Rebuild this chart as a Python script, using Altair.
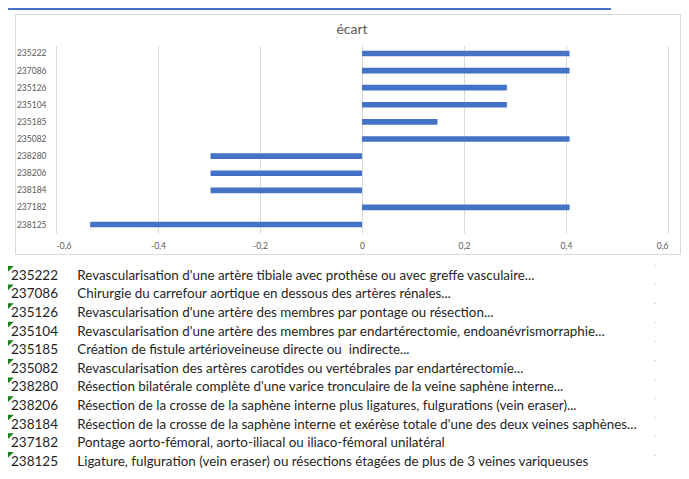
import altair as alt
import pandas as pd

# ---- data ----
codes = ["235222", "237086", "235126", "235104", "235185", "235082",
         "238280", "238206", "238184", "237182", "238125"]
ecart = [0.407, 0.407, 0.284, 0.284, 0.148, 0.407,
         -0.297, -0.297, -0.297, 0.407, -0.533]
descriptions = [
    "Revascularisation d'une artère tibiale avec prothèse ou avec greffe vasculaire...",
    "Chirurgie du carrefour aortique en dessous des artères rénales...",
    "Revascularisation d'une artère des membres par pontage ou résection...",
    "Revascularisation d'une artère des membres par endartérectomie, endoanévrismorraphie...",
    "Création de fistule artérioveineuse directe ou\u00a0 indirecte...",
    "Revascularisation des artères carotides ou vertébrales par endartérectomie...",
    "Résection bilatérale complète d'une varice tronculaire de la veine saphène interne...",
    "Résection de la crosse de la saphène interne plus ligatures, fulgurations (vein eraser)...",
    "Résection de la crosse de la saphène interne et exérèse totale d'une des deux veines saphènes...",
    "Pontage aorto-fémoral, aorto-iliacal ou iliaco-fémoral unilatéral",
    "Ligature, fulguration (vein eraser) ou résections étagées de plus de 3 veines variqueuses",
]
x_ticks = [-0.6, -0.4, -0.2, 0, 0.2, 0.4, 0.6]
title_text = "écart"

FONT = "Lato"
GREY = "#595959"
BLUE = "#4472C4"

df = pd.DataFrame({"code": codes, "ecart": ecart})
table = pd.DataFrame({"code": codes, "desc": descriptions})
one = pd.DataFrame({"a": [0]})

W, H = 612, 188
PL, PT = 48, 37
PR = 673 - PL - W
PB = 471 - PT - H

# chart frame (Excel chart area border)
frame = alt.Chart(one).mark_rect(fillOpacity=0, stroke="#D9D9D9", strokeWidth=1).encode(
    x=alt.value(-40.5), x2=alt.value(624.5), y=alt.value(-30.5), y2=alt.value(209.5)
)
# thin blue line at the very top
topline = alt.Chart(one).mark_rule(color=BLUE, strokeWidth=2).encode(
    x=alt.value(-48), x2=alt.value(555), y=alt.value(-36)
)
title = alt.Chart(one).mark_text(
    text=title_text, font=FONT, fontSize=14, color=GREY, align="center", baseline="middle"
).encode(x=alt.value(296), y=alt.value(-15))

bars = alt.Chart(df).mark_bar(color=BLUE).encode(
    x=alt.X("ecart:Q",
            scale=alt.Scale(domain=[-0.6, 0.6], nice=False, zero=False),
            axis=alt.Axis(values=x_ticks, title=None, grid=True, gridColor="#D9D9D9",
                          domain=False, ticks=False, labelFont=FONT, labelFontSize=8.5,
                          labelColor=GREY, labelPadding=8,
                          labelExpr="replace(toString(datum.value), '.', ',')")),
    y=alt.Y("code:N", sort=codes,
            scale=alt.Scale(paddingInner=0.67, paddingOuter=0.33),
            axis=alt.Axis(title=None, domain=False, ticks=False, grid=False,
                          labelFont=FONT, labelFontSize=8.5, labelColor=GREY,
                          labelPadding=10)),
)

yrow = alt.Y("code:N", sort=None,
             scale=alt.Scale(type="point", domain=codes, range=[230.7, 416.7], padding=0),
             axis=None)

tri = alt.Chart(table).mark_point(
    shape="M-1,-1L1,-1L-1,1Z", filled=True, color="#1A7F1A", opacity=1, size=42,
    yOffset=-6.5
).encode(x=alt.value(-45.5), y=yrow)

code_text = alt.Chart(table).mark_text(
    align="left", baseline="middle", font=FONT, fontSize=13.5, color="#1F1F1F"
).encode(x=alt.value(-45), y=yrow, text="code:N")

desc_text = alt.Chart(table).mark_text(
    align="left", baseline="middle", font=FONT, fontSize=13.4, color="#1F1F1F"
).encode(x=alt.value(21.3), y=yrow, text="desc:N")

dots = alt.Chart(one).mark_rule(color="#BFBFBF", strokeWidth=1, strokeDash=[1, 18]).encode(
    x=alt.value(599), y=alt.value(220), y2=alt.value(426)
)

tbl = alt.layer(tri, code_text, desc_text, dots)

chart = alt.layer(frame, topline, title, bars, tbl).resolve_scale(
    y="independent"
).properties(
    width=W, height=H,
    autosize=alt.AutoSizeParams(type="none"),
    padding={"left": PL, "top": PT, "right": PR, "bottom": PB},
    background="white",
).configure_view(strokeWidth=0)

chart.save("out.html", embed_options={"renderer": "svg", "actions": False})
